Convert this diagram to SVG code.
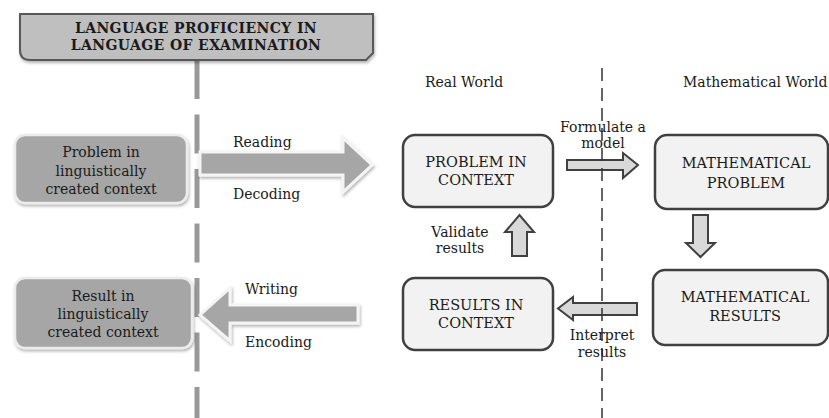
<svg xmlns="http://www.w3.org/2000/svg" width="829" height="418" viewBox="0 0 829 418">
<defs>
<style>
text{font-family:"DejaVu Serif","Liberation Serif",serif;fill:#1a1a1a}
.hdr{font-size:14px;font-weight:bold;text-anchor:middle}
.lbl{font-size:14px}
.mid{text-anchor:middle}
.box{fill:#f2f2f2;stroke:#404040;stroke-width:2.5}
.cap{font-size:14.5px;text-anchor:middle}
.gnode{fill:#a6a6a6;stroke:#ececec;stroke-width:2.5}
.big{fill:#a6a6a6;stroke:#f4f4f4;stroke-width:3}
.small{fill:#d9d9d9;stroke:#404040;stroke-width:2;stroke-linejoin:miter}
</style>
<filter id="sh" x="-10%" y="-10%" width="125%" height="130%">
<feDropShadow dx="1" dy="2" stdDeviation="1.5" flood-color="#000" flood-opacity="0.3"/>
</filter>
</defs>
<rect width="829" height="418" fill="#fff"/>

<g id="connectors">
<line x1="197" y1="60" x2="197" y2="418" stroke="#999" stroke-width="5" stroke-dasharray="39 15.5"/>
<polygon id="reading-arrow" class="big" filter="url(#sh)" points="200,152 343,152 343,138 372,165 343,192 343,175 200,175"/>
<polygon id="writing-arrow" class="big" filter="url(#sh)" points="358,305 230,305 230,288 200,315 230,341 230,323 358,323"/>
<polygon id="formulate-arrow" class="small" points="567,160 623,160 623,153 638,165 623,178 623,170 567,170"/>
<polygon id="validate-arrow" class="small" points="512,256 512,232 505,232 519.5,215 534,232 527,232 527,256"/>
<polygon id="solve-arrow" class="small" points="693,215 708,215 708,243 715,243 700.5,257 686,243 693,243"/>
<polygon id="interpret-arrow" class="small" points="637,303 573,303 573,297 558,308.5 573,320 573,315 637,315"/>
<line x1="602" y1="68" x2="602" y2="418" stroke="#333" stroke-width="1.5" stroke-dasharray="13 7"/>
<text class="lbl" x="233" y="147">Reading</text>
<text class="lbl" x="233" y="199">Decoding</text>
<text class="lbl" x="245" y="294">Writing</text>
<text class="lbl" x="245" y="347">Encoding</text>
<text class="lbl mid" x="603" y="132">Formulate a</text>
<text class="lbl mid" x="603" y="148">model</text>
<text class="lbl mid" x="460" y="237">Validate</text>
<text class="lbl mid" x="460" y="253">results</text>
<text class="lbl mid" x="602" y="340">Interpret</text>
<text class="lbl mid" x="602" y="357">results</text>
</g>

<g id="header">
<path d="M20,14 H373 V53 L366,60 H30 Q20,60 20,50 Z" fill="#bfbfbf" stroke="#595959" stroke-width="2" filter="url(#sh)"/>
<text class="hdr" x="196" y="33" letter-spacing="0.4">LANGUAGE PROFICIENCY IN</text>
<text class="hdr" x="196" y="50" letter-spacing="0.4">LANGUAGE OF EXAMINATION</text>
</g>

<g id="real-world-label"><text class="lbl" x="425" y="87">Real World</text></g>
<g id="math-world-label"><text class="lbl" x="683" y="87">Mathematical World</text></g>

<g id="problem-linguistic">
<rect class="gnode" filter="url(#sh)" x="15" y="135" width="172" height="68" rx="10"/>
<text class="lbl mid" x="101" y="157">Problem in</text>
<text class="lbl mid" x="101" y="175.5">linguistically</text>
<text class="lbl mid" x="101" y="194">created context</text>
</g>

<g id="result-linguistic">
<rect class="gnode" filter="url(#sh)" x="15" y="278" width="177" height="70" rx="10"/>
<text class="lbl mid" x="103" y="301">Result in</text>
<text class="lbl mid" x="103" y="319">linguistically</text>
<text class="lbl mid" x="103" y="337">created context</text>
</g>

<g id="problem-in-context">
<rect class="box" x="403" y="135" width="150" height="72" rx="12"/>
<text class="cap" x="476" y="167">PROBLEM IN</text>
<text class="cap" x="476" y="185">CONTEXT</text>
</g>

<g id="mathematical-problem">
<rect class="box" x="655" y="135" width="173" height="74" rx="12"/>
<text class="cap" x="746" y="168">MATHEMATICAL</text>
<text class="cap" x="746" y="188">PROBLEM</text>
</g>

<g id="results-in-context">
<rect class="box" x="403" y="278" width="150" height="72" rx="12"/>
<text class="cap" x="476" y="310">RESULTS IN</text>
<text class="cap" x="476" y="328">CONTEXT</text>
</g>

<g id="mathematical-results">
<rect class="box" x="653" y="270" width="175" height="75" rx="12"/>
<text class="cap" x="745" y="302">MATHEMATICAL</text>
<text class="cap" x="745" y="321">RESULTS</text>
</g>
</svg>
